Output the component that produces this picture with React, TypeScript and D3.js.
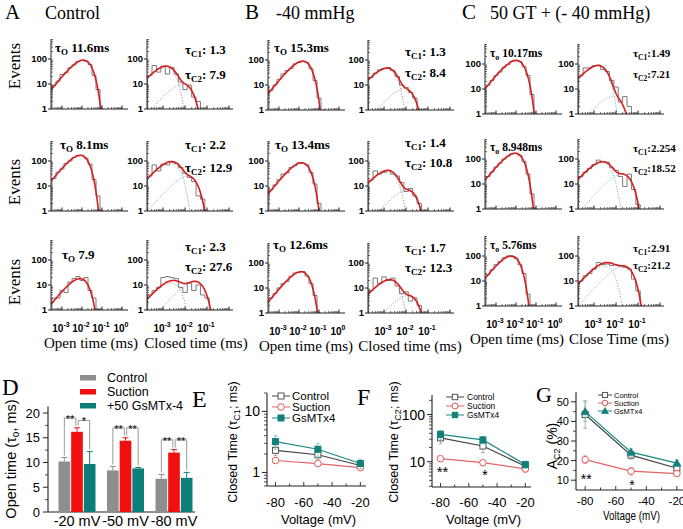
import React from 'react';
import * as d3 from 'd3';

const SERIF = '"Liberation Serif", "Times New Roman", Times, serif';
const SANS = '"Liberation Sans", Arial, Helvetica, sans-serif';

/* ======================= DATA ======================= */
// Panels A–C (dwell-time histograms)
const conditionLetters = ['A', 'B', 'C'];
const conditionTitles = ['Control', '-40 mmHg', '50 GT + (- 40 mmHg)'];
const openAxisTitles = ['Open time (ms)', 'Open time (ms)', 'Open time (ms)'];
const closedAxisTitles = ['Closed time (ms)', 'Closed time (ms)', 'Close Time (ms)'];
const openTauSub = ['O', 'O', 'o'];
const eventsLabel = 'Events';

const openTauMs = [[11.6, 8.1, 7.9], [15.3, 13.4, 12.6], [10.17, 8.948, 5.76]];
const openTauText = [[' 11.6ms', ' 8.1ms', ' 7.9'], [' 15.3ms', ' 13.4ms', ' 12.6ms'], [' 10.17ms', ' 8.948ms', ' 5.76ms']];
const openPeak = [[90, 170, 18], [90, 85, 45], [140, 170, 100]];
const openHistStart = -3.5;
const openHist = [
  [[9, 13, 24, 28, 45, 58, 80, 88, 82, 60, 22, 6, 1], [20, 36, 48, 80, 100, 140, 160, 165, 130, 75, 18, 4, 1], [3, 3, 6, 5, 13, 18, 22, 15, 20, 6, 3, 1]],
  [[6, 10, 17, 28, 38, 45, 70, 80, 88, 80, 45, 15, 3, 1], [7, 11, 18, 30, 33, 55, 65, 85, 80, 70, 35, 12, 2], [4, 6, 10, 15, 18, 30, 40, 42, 46, 30, 15, 5, 1]],
  [[14, 22, 35, 48, 75, 95, 130, 135, 125, 78, 35, 6, 1], [20, 30, 48, 68, 100, 130, 160, 170, 140, 80, 25, 4, 1], [18, 28, 45, 60, 85, 100, 92, 80, 45, 20, 3, 1]],
];
const closedTau1Ms = [[1.3, 2.2, 2.3], [1.3, 1.4, 1.7], [1.49, 2.254, 2.91]];
const closedTau2Ms = [[7.9, 12.9, 27.6], [8.4, 10.8, 12.3], [7.21, 18.52, 21.2]];
const closedTau1Text = [[': 1.3', ': 2.2', ': 2.3'], [': 1.3', ':  1.4', ': 1.7'], [':1.49', ':2.254', ':2.91']];
const closedTau2Text = [[': 7.9', ': 12.9', ': 27.6'], [': 8.4', ': 10.8', ': 12.3'], [':7.21', ':18.52', ':21.2']];
const closedAmp1 = [[48, 85, 12], [45, 40, 20], [85, 70, 40]];
const closedAmp2 = [[10, 25, 14], [7, 7, 5], [5, 25, 40]];
const closedHistStart = -3.7;
const closedHist = [
  [[22, 55, 30, 52, 25, 45, 25, 12, 6, 9, 3, 2], [25, 70, 40, 75, 70, 90, 80, 55, 32, 22, 15, 4, 3, 1], [4, 6, 8, 20, 22, 20, 18, 8, 5, 12, 6, 10, 4, 3, 1]],
  [[20, 30, 40, 45, 50, 38, 22, 10, 8, 5, 3, 1], [17, 40, 30, 35, 42, 30, 25, 14, 6, 8, 4, 2, 1], [8, 25, 15, 28, 20, 25, 12, 6, 7, 3, 4, 2, 1]],
  [[34, 70, 70, 85, 90, 60, 50, 22, 12, 3, 5, 2, 1], [20, 30, 42, 60, 90, 80, 75, 45, 35, 20, 8, 25, 6, 1.5], [10, 16, 20, 30, 55, 45, 48, 42, 45, 40, 35, 30, 12, 4, 1]],
];
const histBinWidth = 0.2; // decades
const countTicks = [1, 10, 100];
const openDecadeLabels = [-3, -2, -1, 0];
const closedDecadeLabels = [-3, -2, -1];

// Panel D
const dGroups = ['-20 mV', '-50 mV', '-80 mV'];
const dSeriesNames = ['Control', 'Suction', '+50 GsMTx-4'];
const dControl = [10.2, 8.4, 6.7];
const dControlErr = [0.8, 0.8, 0.9];
const dSuction = [16.2, 14.4, 12.0];
const dSuctionErr = [0.8, 0.6, 0.6];
const dGsmtx = [9.7, 8.8, 6.9];
const dGsmtxErr = [2.5, 0.2, 1.1];
const dStars = [['**', '*'], ['**', '**'], ['**', '**']];
const dYTicks = [0, 5, 10, 15, 20];

// Panels E–G
const voltages = [-80, -50, -20];
const voltageTicks = [-80, -60, -40, -20];
const lineSeriesNames = ['Control', 'Suction', 'GsMTx4'];
const eControl = [2.3, 1.95, 1.3];
const eControlErr = [0.4, 0.3, 0.1];
const eSuction = [1.57, 1.4, 1.2];
const eSuctionErr = [0.1, 0.08, 0.08];
const eGsmtx = [3.2, 2.4, 1.4];
const eGsmtxErr = [0.8, 0.6, 0.25];
const fControl = [32, 21.5, 8];
const fControlErr = [8, 6, 1];
const fSuction = [11.6, 9.5, 7.0];
const fSuctionErr = [1, 0.8, 1];
const fGsmtx = [38, 29, 8.7];
const fGsmtxErr = [8, 5, 1.5];
const fStars = [{ v: -80, t: '**' }, { v: -50, t: '*' }];
const gControl = [43.5, 22.8, 16.1];
const gControlErr = [7, 2, 1];
const gSuction = [20.5, 14.6, 13.4];
const gSuctionErr = [2, 2, 1.5];
const gGsmtx = [45, 24.3, 18.7];
const gGsmtxErr = [5, 2, 1.5];
const gStars = [{ v: -80, t: '**' }, { v: -50, t: '*' }];
const eYTicks = [1, 10];
const fYTicks = [10, 100];
const gYTicks = [10, 20, 30, 40, 50];

/* ======================= LAYOUT / STYLE ======================= */
const HIST = { panelH: 70, decadePx: 25, openW: 77, closedW: 86, openLog: [-3.55, 0.3], closedLog: [-3.73, 0.18] };
const colAxisX = [[51, 147], [268, 368], [485, 578]];
const rowBase = [[109, 211, 310], [110, 211, 313], [114, 209, 306]];
const openTextPos = [[[4, -57], [9, -62], [11, -51]], [[6, -58], [7, -62], [5, -64]], [[5, -57], [5, -58], [5, -57]]];
const closedTextPos = [
  [[38, -55, -30], [38, -62, -39], [38, -59, -39]],
  [[37, -54, -33], [37, -64, -44], [37, -61, -41]],
  [[55, -57, -36], [55, -57, -37], [55, -54, -37]],
];
const eventsY = [66, 182, 282];
const axisTitleX = [[91, 196], [306, 410], [517, 619]];
const headerX = [[5, 45], [245, 276], [462, 490]];

const RED_FIT = '#d81e1e';
const BAR = { gray: '#8e8e8e', red: '#f01010', teal: '#0d7d78' };
const LS = {
  control: { line: '#444', stroke: '#555', fill: '#fff', err: '#a8a8a8' },
  suction: { line: '#e56464', stroke: '#e25858', fill: '#fff', err: '#f2a3a3' },
  gsmtx: { line: '#178a82', stroke: '#128078', fill: '#128078', err: '#79c9c4' },
};

/* ======================= HISTOGRAM PANELS ======================= */
function HistPanel({ col, row, kind }: { col: number; row: number; kind: 'open' | 'closed' }) {
  const isOpen = kind === 'open';
  const base = rowBase[col][row];
  const x0 = colAxisX[col][isOpen ? 0 : 1];
  const w = isOpen ? HIST.openW : HIST.closedW;
  const [lo, hi] = isOpen ? HIST.openLog : HIST.closedLog;
  const top = base - HIST.panelH;
  const x = d3.scaleLog().domain([10 ** lo, 10 ** hi]).range([x0, x0 + w]);
  const yMax = 10 ** (HIST.panelH / HIST.decadePx);
  const y = d3.scaleLog().domain([1, yMax]).range([base, top]);
  const yc = (v: number) => y(Math.max(v, 0.2));
  const ts = d3.range(240).map((i) => 10 ** (lo + ((hi - lo) * i) / 239));
  const line = d3.line<number[]>().x((d) => x(d[0])).y((d) => yc(d[1]));
  const comps = isOpen
    ? [{ tau: openTauMs[col][row] / 1000, amp: openPeak[col][row] }]
    : [
        { tau: closedTau1Ms[col][row] / 1000, amp: closedAmp1[col][row] },
        { tau: closedTau2Ms[col][row] / 1000, amp: closedAmp2[col][row] },
      ];
  const dens = (t: number, c: { tau: number; amp: number }) => c.amp * (t / c.tau) * Math.exp(1 - t / c.tau);
  const totalPath = line(ts.map((t) => [t, comps.reduce((s, c) => s + dens(t, c), 0)]));
  const compPaths = isOpen ? [] : comps.map((c) => line(ts.map((t) => [t, dens(t, c)])));

  const counts = isOpen ? openHist[col][row] : closedHist[col][row];
  const start = isOpen ? openHistStart : closedHistStart;
  let hp = `M${x(10 ** start)},${base}`;
  counts.forEach((c, i) => {
    const yy = c >= 1 ? y(c) : base;
    hp += `V${yy}H${x(10 ** (start + (i + 1) * histBinWidth))}`;
  });
  hp += `V${base}`;

  const minorY: number[] = [];
  [1, 10, 100].forEach((dec) => d3.range(2, 10).forEach((k) => { if (k * dec <= yMax) minorY.push(k * dec); }));
  const majorX = d3.range(Math.ceil(lo), Math.floor(hi) + 1);
  const minorX: number[] = [];
  d3.range(Math.floor(lo), Math.ceil(hi)).forEach((dec) =>
    d3.range(2, 10).forEach((k) => {
      const v = Math.log10(k) + dec;
      if (v > lo && v < hi) minorX.push(v);
    })
  );
  const clipId = `clip-${col}-${row}-${kind}`;
  const dotted = col === 2 ? '#62aeb8' : '#8a8a8a';
  const isC = col === 2;
  const tickFs = 9.5;

  return (
    <g>
      <defs>
        <clipPath id={clipId}>
          <rect x={x0} y={top - 3} width={w} height={HIST.panelH + 3} />
        </clipPath>
      </defs>
      <g clipPath={`url(#${clipId})`}>
        <path d={hp} fill="none" stroke="#7a7a7a" strokeWidth={1} />
        {compPaths.map((p, i) => (
          <path key={i} d={p || ''} fill="none" stroke={dotted} strokeWidth={0.9} strokeDasharray="1.2,1.6" />
        ))}
        <path d={totalPath || ''} fill="none" stroke={RED_FIT} strokeWidth={1.6} />
      </g>
      {/* axes */}
      <line x1={x0} x2={x0} y1={base} y2={top} stroke="#222" strokeWidth={1} />
      <line x1={x0} x2={x0 + w} y1={base} y2={base} stroke="#222" strokeWidth={1} />
      {countTicks.map((v) => (
        <g key={v}>
          <line x1={x0 - 3} x2={x0} y1={y(v)} y2={y(v)} stroke="#222" />
          <text x={x0 - 4} y={y(v) + 3.4} textAnchor="end" fontFamily={SANS} fontWeight={700} fontSize={tickFs}>{v}</text>
        </g>
      ))}
      {minorY.map((v) => (
        <line key={v} x1={x0} x2={x0 + 2} y1={y(v)} y2={y(v)} stroke="#333" strokeWidth={0.7} />
      ))}
      {majorX.map((v) => (
        <line key={v} x1={x(10 ** v)} x2={x(10 ** v)} y1={base} y2={base - 3.5} stroke="#222" />
      ))}
      {minorX.map((v, i) => (
        <line key={i} x1={x(10 ** v)} x2={x(10 ** v)} y1={base} y2={base - 2} stroke="#333" strokeWidth={0.7} />
      ))}
      {row === 2 &&
        (isOpen ? openDecadeLabels : closedDecadeLabels).map((v) => (
          <text key={v} x={x(10 ** v) - 1} y={base + 22} textAnchor="middle" fontFamily={SANS} fontWeight={700} fontSize={10}>
            10<tspan dy={-5} fontSize={7}>{v}</tspan>
          </text>
        ))}
      {/* tau labels */}
      {isOpen ? (
        <text
          x={x0 + openTextPos[col][row][0]}
          y={base + openTextPos[col][row][1]}
          fontFamily={SERIF}
          fontWeight={700}
          fontSize={isC ? 11.5 : 13}
        >
          τ<tspan dy={3} fontSize={isC ? 8 : 9}>{openTauSub[col]}</tspan>
          <tspan dy={-3}>{openTauText[col][row]}</tspan>
        </text>
      ) : (
        <g fontFamily={SERIF} fontWeight={700} fontSize={isC ? 11 : 13}>
          <text x={x0 + closedTextPos[col][row][0]} y={base + closedTextPos[col][row][1]}>
            τ<tspan dy={3} fontSize={isC ? 7.5 : 9}>C1</tspan>
            <tspan dy={-3}>{closedTau1Text[col][row]}</tspan>
          </text>
          <text x={x0 + closedTextPos[col][row][0]} y={base + closedTextPos[col][row][2]}>
            τ<tspan dy={3} fontSize={isC ? 7.5 : 9}>C2</tspan>
            <tspan dy={-3}>{closedTau2Text[col][row]}</tspan>
          </text>
        </g>
      )}
    </g>
  );
}

/* ======================= MARKERS ======================= */
function Marker({ shape, x, y, st, s = 1 }: { shape: string; x: number; y: number; st: any; s?: number }) {
  if (shape === 'circle') return <circle cx={x} cy={y} r={3.3 * s} fill="#fff" stroke={st.stroke} strokeWidth={1} />;
  if (shape === 'triangle')
    return <path d={`M${x},${y - 4 * s}L${x + 4 * s},${y + 3 * s}L${x - 4 * s},${y + 3 * s}Z`} fill={st.fill} stroke={st.stroke} strokeWidth={0.8} />;
  return <rect x={x - 3 * s} y={y - 3 * s} width={6 * s} height={6 * s} fill={st.fill} stroke={st.stroke} strokeWidth={1} />;
}

type SeriesDef = { values: number[]; errs: number[]; st: any; shape: string };

function LinePanel({
  axisX, axisRight, bottom, top, y, yMajor, yMinor, series, tickFont, tickBaseline, xTitleY, xTitleFont, xTitleLen, yTickFont,
}: any) {
  const x = d3.scaleLinear().domain([-86, -16]).range([axisX, axisRight]);
  const line = d3.line<number>().x((_, i) => x(voltages[i])).y((d) => y(d));
  const minorX = d3.range(-80, -10, 10);
  return (
    <g>
      <line x1={axisX} x2={axisX} y1={bottom} y2={top} stroke="#222" strokeWidth={1.1} />
      <line x1={axisX} x2={axisRight} y1={bottom} y2={bottom} stroke="#222" strokeWidth={1.1} />
      {yMajor.map((v: number) => (
        <g key={v}>
          <line x1={axisX - 5} x2={axisX} y1={y(v)} y2={y(v)} stroke="#222" />
          <text x={axisX - 7} y={y(v) + yTickFont * 0.36} textAnchor="end" fontFamily={SANS} fontSize={yTickFont}>{v}</text>
        </g>
      ))}
      {yMinor.map((v: number) => (
        <line key={v} x1={axisX - 3} x2={axisX} y1={y(v)} y2={y(v)} stroke="#222" strokeWidth={0.8} />
      ))}
      {minorX.map((v) => (
        <line key={v} x1={x(v)} x2={x(v)} y1={bottom} y2={bottom - (v % 20 === 0 ? 4 : 2.5)} stroke="#222" strokeWidth={0.9} />
      ))}
      {voltageTicks.map((v) => (
        <text key={v} x={x(v)} y={tickBaseline} textAnchor="middle" fontFamily={SANS} fontSize={tickFont}>{v}</text>
      ))}
      <text
        x={(axisX + axisRight) / 2 + 2}
        y={xTitleY}
        textAnchor="middle"
        fontFamily={SANS}
        fontSize={xTitleFont}
        {...(xTitleLen ? { textLength: xTitleLen, lengthAdjust: 'spacingAndGlyphs' } : {})}
      >
        Voltage (mV)
      </text>
      {series.map((s: SeriesDef, si: number) => (
        <g key={si}>
          {s.values.map((v, i) => (
            <g key={i} stroke={s.st.err} strokeWidth={0.9}>
              <line x1={x(voltages[i])} x2={x(voltages[i])} y1={y(v - s.errs[i])} y2={y(v + s.errs[i])} />
              <line x1={x(voltages[i]) - 2} x2={x(voltages[i]) + 2} y1={y(v + s.errs[i])} y2={y(v + s.errs[i])} />
              <line x1={x(voltages[i]) - 2} x2={x(voltages[i]) + 2} y1={y(v - s.errs[i])} y2={y(v - s.errs[i])} />
            </g>
          ))}
          <path d={line(s.values) || ''} fill="none" stroke={s.st.line} strokeWidth={1.2} />
          {s.values.map((v, i) => (
            <Marker key={i} shape={s.shape} x={x(voltages[i])} y={y(v)} st={s.st} />
          ))}
        </g>
      ))}
    </g>
  );
}

function Legend({ x1, x2, ys, fontSize, shapes, tx, ms = 1 }: any) {
  const sts = [LS.control, LS.suction, LS.gsmtx];
  return (
    <g>
      {lineSeriesNames.map((n, i) => (
        <g key={n}>
          <line x1={x1} x2={x2} y1={ys[i]} y2={ys[i]} stroke={sts[i].line} strokeWidth={1} />
          <Marker shape={shapes[i]} x={(x1 + x2) / 2} y={ys[i]} st={sts[i]} s={ms} />
          <text x={tx} y={ys[i] + fontSize * 0.36} fontFamily={SANS} fontSize={fontSize}>{n}</text>
        </g>
      ))}
    </g>
  );
}

/* ======================= PANEL D ======================= */
function PanelD() {
  const axisX = 48, axisRight = 195, bottom = 512;
  const y = d3.scaleLinear().domain([0, 20]).range([bottom, 413]);
  const gx = d3.scalePoint().domain(dGroups).range([77, 174]);
  const sx = d3.scaleBand().domain(dSeriesNames).range([-18.5, 18.5]).paddingInner(0.08);
  const vals = [dControl, dSuction, dGsmtx];
  const errs = [dControlErr, dSuctionErr, dGsmtxErr];
  const cols = [BAR.gray, BAR.red, BAR.teal];
  const bw = sx.bandwidth();
  return (
    <g>
      <text x={2} y={395} fontFamily={SERIF} fontSize={23}>D</text>
      {dSeriesNames.map((n, i) => (
        <g key={n}>
          <rect x={80} y={375 + i * 14} width={16} height={5.5} fill={cols[i]} />
          <text x={107} y={382 + i * 14} fontFamily={SANS} fontSize={12.5}>{n}</text>
        </g>
      ))}
      <line x1={axisX} x2={axisX} y1={bottom} y2={y(21.3)} stroke="#222" strokeWidth={1.1} />
      <line x1={axisX} x2={axisRight} y1={bottom} y2={bottom} stroke="#222" strokeWidth={1.1} />
      {dYTicks.map((v) => (
        <g key={v}>
          <line x1={axisX - 5} x2={axisX} y1={y(v)} y2={y(v)} stroke="#222" />
          <text x={axisX - 8} y={y(v) + 4.5} textAnchor="end" fontFamily={SANS} fontSize={13}>{v}</text>
        </g>
      ))}
      {[2.5, 7.5, 12.5, 17.5].map((v) => (
        <line key={v} x1={axisX - 3} x2={axisX} y1={y(v)} y2={y(v)} stroke="#222" strokeWidth={0.8} />
      ))}
      <text transform={`translate(16,459) rotate(-90)`} textAnchor="middle" fontFamily={SANS} fontSize={14.5}>
        Open time (τ<tspan dy={3} fontSize={10}>o</tspan>
        <tspan dy={-3}>, ms)</tspan>
      </text>
      {dGroups.map((g, gi) => {
        const cx = gx(g) as number;
        const barX = dSeriesNames.map((n) => cx + (sx(n) as number));
        const tops = vals.map((v, si) => v[gi] + errs[si][gi]);
        const bTop = Math.max(...tops) + 2;
        const brackets = [
          [0, 1],
          [1, 2],
        ];
        return (
          <g key={g}>
            {dSeriesNames.map((n, si) => (
              <g key={n}>
                <rect x={barX[si]} y={y(vals[si][gi])} width={bw} height={bottom - y(vals[si][gi])} fill={cols[si]} />
                <line x1={barX[si] + bw / 2} x2={barX[si] + bw / 2} y1={y(vals[si][gi])} y2={y(tops[si])} stroke={cols[si]} strokeWidth={1} />
                <line x1={barX[si] + bw / 2 - 3} x2={barX[si] + bw / 2 + 3} y1={y(tops[si])} y2={y(tops[si])} stroke={cols[si]} strokeWidth={1} />
              </g>
            ))}
            {brackets.map(([a, b], bi) => {
              const xa = barX[a] + bw / 2 + (bi === 1 ? 1.2 : 0);
              const xb = barX[b] + bw / 2 - (bi === 0 ? 1.2 : 0);
              const yt = y(bTop - (gi === 0 && bi === 1 ? 0.5 : 0));
              return (
                <g key={bi}>
                  <path
                    d={`M${xa},${y(tops[a] + 0.4)}V${yt}H${xb}V${y(tops[b] + 0.4)}`}
                    fill="none"
                    stroke="#9a9a9a"
                    strokeWidth={1}
                  />
                  <text x={(xa + xb) / 2} y={yt + 5} textAnchor="middle" fontFamily={SANS} fontSize={11}>{dStars[gi][bi]}</text>
                </g>
              );
            })}
            <text x={cx} y={526} textAnchor="middle" fontFamily={SANS} fontSize={14.5}>{g}</text>
          </g>
        );
      })}
    </g>
  );
}

/* ======================= APP ======================= */
export default function App() {
  const histCells: any[] = [];
  [0, 1, 2].forEach((col) =>
    [0, 1, 2].forEach((row) => {
      histCells.push(<HistPanel key={`o${col}${row}`} col={col} row={row} kind="open" />);
      histCells.push(<HistPanel key={`c${col}${row}`} col={col} row={row} kind="closed" />);
    })
  );

  const eY = d3.scaleLog().domain([0.6, 20]).range([486, 393]);
  const fY = d3.scaleLog().domain([2.9, 260]).range([487, 395]);
  const gY = d3.scaleLinear().domain([5, 55]).range([490, 392]);
  const eMinor = [0.6, 0.7, 0.8, 0.9, 2, 3, 4, 5, 6, 7, 8, 9, 20];
  const fMinor = [3, 4, 5, 6, 7, 8, 9, 20, 30, 40, 50, 60, 70, 80, 90, 200];
  const gMinor = [15, 25, 35, 45];

  const efSeries = (c: number[], ce: number[], s: number[], se: number[], g: number[], ge: number[], gShape: string): SeriesDef[] => [
    { values: c, errs: ce, st: LS.control, shape: 'square' },
    { values: s, errs: se, st: LS.suction, shape: 'circle' },
    { values: g, errs: ge, st: LS.gsmtx, shape: gShape },
  ];
  const fx = d3.scaleLinear().domain([-86, -16]).range([432, 531]);
  const gx = d3.scaleLinear().domain([-86, -16]).range([576, 683]);

  return (
    <svg
      width={683}
      height={529}
      viewBox="0 0 683 529"
      style={{ position: 'absolute', left: 0, top: 0, background: '#fff' }}
      xmlns="http://www.w3.org/2000/svg"
    >
      <rect width={683} height={529} fill="#fff" />
      {/* headers */}
      {conditionLetters.map((l, i) => (
        <g key={l}>
          <text x={headerX[i][0]} y={19} fontFamily={SERIF} fontSize={21}>{l}</text>
          <text x={headerX[i][1]} y={19} fontFamily={SERIF} fontSize={18}>{conditionTitles[i]}</text>
        </g>
      ))}
      {eventsY.map((cy, i) => (
        <text key={i} transform={`translate(20,${cy}) rotate(-90)`} textAnchor="middle" fontFamily={SERIF} fontSize={17}>
          {eventsLabel}
        </text>
      ))}
      {histCells}
      {[0, 1, 2].map((col) => (
        <g key={col} fontFamily={SERIF} fontSize={15}>
          <text x={axisTitleX[col][0]} y={rowBase[col][2] + 38} textAnchor="middle">{openAxisTitles[col]}</text>
          <text x={axisTitleX[col][1]} y={rowBase[col][2] + 38} textAnchor="middle">{closedAxisTitles[col]}</text>
        </g>
      ))}

      <PanelD />

      {/* E */}
      <text x={192} y={407} fontFamily={SERIF} fontSize={24}>E</text>
      <LinePanel
        axisX={267}
        axisRight={366}
        bottom={486}
        top={393}
        y={eY}
        yMajor={eYTicks}
        yMinor={eMinor}
        series={efSeries(eControl, eControlErr, eSuction, eSuctionErr, eGsmtx, eGsmtxErr, 'square')}
        tickFont={13}
        tickBaseline={507}
        xTitleY={524}
        xTitleFont={13}
        yTickFont={14}
      />
      <Legend x1={272} x2={290} ys={[396, 407, 418]} fontSize={11.5} tx={292} shapes={['square', 'circle', 'square']} />
      <text transform="translate(237,442) rotate(-90)" textAnchor="middle" fontFamily={SANS} fontSize={12.5}>
        Closed Time (τ<tspan dy={3} fontSize={9}>C1</tspan>
        <tspan dy={-3}>; ms)</tspan>
      </text>

      {/* F */}
      <text x={357} y={405} fontFamily={SERIF} fontSize={24}>F</text>
      <LinePanel
        axisX={432}
        axisRight={531}
        bottom={487}
        top={395}
        y={fY}
        yMajor={fYTicks}
        yMinor={fMinor}
        series={efSeries(fControl, fControlErr, fSuction, fSuctionErr, fGsmtx, fGsmtxErr, 'square')}
        tickFont={13}
        tickBaseline={507}
        xTitleY={524}
        xTitleFont={13}
        yTickFont={14}
      />
      <Legend x1={446} x2={464} ys={[397, 406, 415]} fontSize={8.5} tx={467} ms={0.9} shapes={['square', 'circle', 'square']} />
      <text transform="translate(398,442) rotate(-90)" textAnchor="middle" fontFamily={SANS} fontSize={12.5}>
        Closed Time (τ<tspan dy={3} fontSize={9}>C2</tspan>
        <tspan dy={-3}>; ms)</tspan>
      </text>
      {fStars.map((s) => (
        <text key={s.v} x={fx(s.v) + 2} y={s.t === '**' ? 477 : 480} textAnchor="middle" fontFamily={SANS} fontSize={15}>{s.t}</text>
      ))}

      {/* G */}
      <text x={536} y={402} fontFamily={SERIF} fontSize={22}>G</text>
      <LinePanel
        axisX={576}
        axisRight={683}
        bottom={490}
        top={392}
        y={gY}
        yMajor={gYTicks}
        yMinor={gMinor}
        series={efSeries(gControl, gControlErr, gSuction, gSuctionErr, gGsmtx, gGsmtxErr, 'triangle')}
        tickFont={11.5}
        tickBaseline={505}
        xTitleY={520}
        xTitleFont={12}
        xTitleLen={57}
        yTickFont={11}
      />
      <Legend x1={598} x2={612} ys={[395, 403, 411]} fontSize={7.5} tx={614} ms={0.85} shapes={['square', 'circle', 'triangle']} />
      <text transform="translate(557,446) rotate(-90)" textAnchor="middle" fontFamily={SANS} fontSize={14}>
        A<tspan dy={3} fontSize={9}>C2</tspan>
        <tspan dy={-3}> (%)</tspan>
      </text>
      {gStars.map((s) => (
        <text key={s.v} x={gx(s.v) + 1} y={s.t === '**' ? 484 : 490} textAnchor="middle" fontFamily={SANS} fontSize={14}>{s.t}</text>
      ))}
    </svg>
  );
}
